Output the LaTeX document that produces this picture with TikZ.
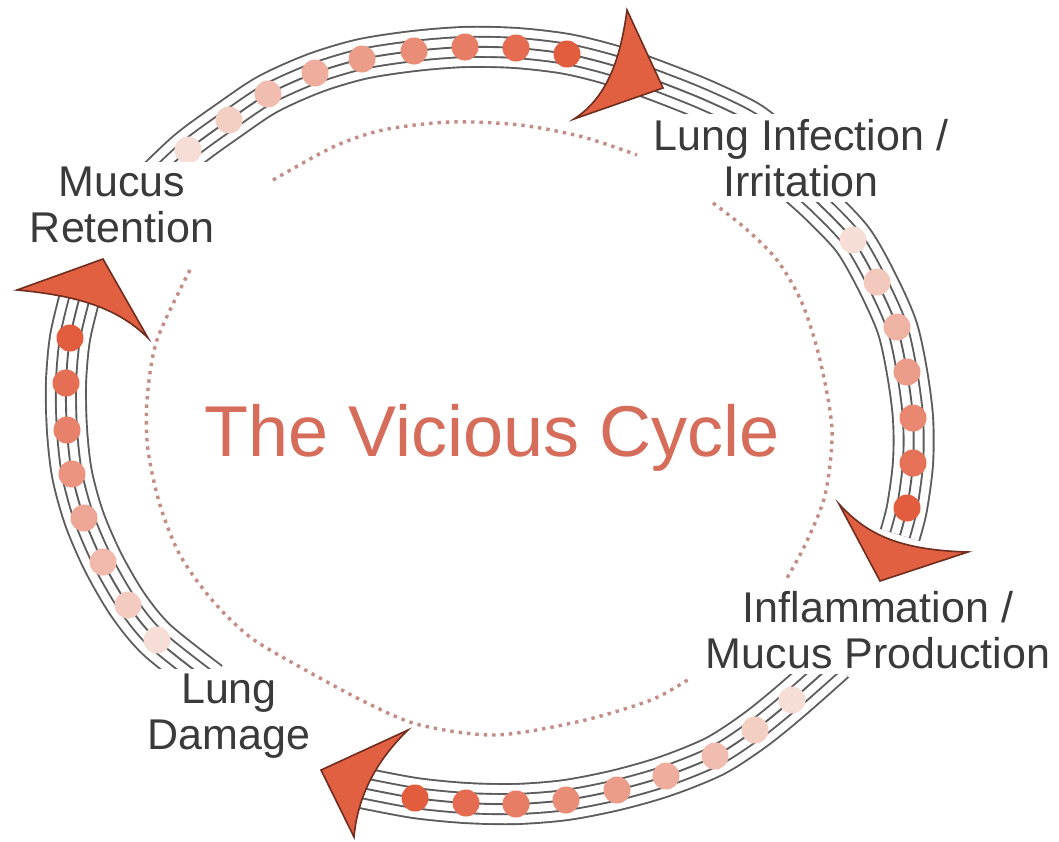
\documentclass[tikz,border=0pt]{standalone}
\usepackage{fontspec}
\setmainfont{Liberation Sans}
\definecolor{tubegray}{RGB}{92,92,92}
\definecolor{dotlight}{RGB}{246,222,214}
\definecolor{dotdark}{RGB}{226,92,62}
\definecolor{arrowfill}{RGB}{225,96,66}
\definecolor{arrowline}{RGB}{110,45,30}
\definecolor{titlecol}{RGB}{214,108,90}
\definecolor{labelcol}{RGB}{58,58,58}
\definecolor{ringcol}{RGB}{196,140,134}
\tikzset{
 tube/.style={draw=tubegray, line width=42pt, line cap=butt, line join=round,
   postaction={draw=white, line width=38.2pt},
   postaction={draw=tubegray, line width=22pt},
   postaction={draw=white, line width=18.2pt},
   postaction={draw=tubegray, line width=1.9pt}},
 ring/.style={draw=ringcol, line width=3.4pt, line cap=butt, dash pattern=on 3.4pt off 5pt},
 bead/.style={circle, inner sep=0pt, minimum size=27pt},
 lbl/.style={fill=white, text=labelcol, align=center, inner sep=5pt, font=\fontsize{43}{46}\selectfont},
 head/.style={fill=arrowfill, draw=arrowline, line width=1.6pt, line join=miter}
}
\begin{document}
\begin{tikzpicture}[x=1pt, y=-1pt]
\useasboundingbox (0,0) rectangle (1059,841);
% tubes
\draw[tube] plot[smooth] coordinates {(150,186) (188,150) (229,120) (268,94) (315,73) (362,59) (414,51) (465,47) (516,48) (567,54) (615,66) (660,82) (705,100) (750,122) (785,150)};
\draw[tube] plot[smooth] coordinates {(790,178) (820,205) (853,240) (877,282) (897,327) (907,372) (913,418) (913,463) (907,508) (900,535)};
\draw[tube] plot[smooth] coordinates {(835,662) (792,700) (755,730) (715,756) (666,776) (617,790) (566,800) (516,804) (466,803) (415,798) (362,788)};
\draw[tube] plot[smooth] coordinates {(210,682) (157,640) (128,605) (103,562) (84,518) (72,474) (67,430) (66,383) (70,338) (80,296)};
% beads
\foreach \x/\y [count=\i] in {188/150, 229/120, 268/94, 315/73, 362/59, 414/51, 465/47, 516/48, 567/54}{
  \pgfmathsetmacro\p{(\i-1)/8*100}
  \node[bead, fill=dotdark!\p!dotlight] (top\i) at (\x,\y) {};}
\foreach \x/\y [count=\i] in {853/240, 877/282, 897/327, 907/372, 913/418, 913/463, 907/508}{
  \pgfmathsetmacro\p{(\i-1)/6*100}
  \node[bead, fill=dotdark!\p!dotlight] (right\i) at (\x,\y) {};}
\foreach \x/\y [count=\i] in {792/700, 755/730, 715/756, 666/776, 617/790, 566/800, 516/804, 466/803, 415/798}{
  \pgfmathsetmacro\p{(\i-1)/8*100}
  \node[bead, fill=dotdark!\p!dotlight] (bottom\i) at (\x,\y) {};}
\foreach \x/\y [count=\i] in {157/640, 128/605, 103/562, 84/518, 72/474, 67/430, 66/383, 70/338}{
  \pgfmathsetmacro\p{(\i-1)/7*100}
  \node[bead, fill=dotdark!\p!dotlight] (left\i) at (\x,\y) {};}
% labels
\node[lbl] (retention) at (122,205) {Mucus\\Retention};
\node[lbl] (infection) at (801,158) {Lung Infection /\\Irritation};
\node[lbl] (inflammation) at (878,630) {Inflammation /\\Mucus Production};
\node[lbl] (damage) at (229,716) {Lung\\Damage};
\node[font=\fontsize{72}{80}\selectfont, text=titlecol, anchor=base] (title) at (492,456) {The Vicious Cycle};
% dotted inner ring
\draw[ring] plot[smooth] coordinates {(273,180) (333,147) (383,130) (450,122) (520,125) (583,137) (637,155)};
\draw[ring] plot[smooth] coordinates {(713,203) (745,228) (777,260) (802,303) (820,360) (832,430) (825,495) (805,545) (787,578)};
\draw[ring] plot[smooth] coordinates {(190,270) (157,340) (147,400) (148,450) (160,505) (180,555) (212,600) (250,637) (300,667) (367,703) (420,725) (496,735) (581,721) (651,700) (689,679)};
% arrowheads
\filldraw[head] (627,10) -- (663,88) -- (574,119) .. controls (606,98) and (620,62) .. (627,10) -- cycle;
\filldraw[head] (968,552) -- (880,581) -- (839,504) .. controls (865,532) and (895,550) .. (968,552) -- cycle;
\filldraw[head] (408,730) -- (321,770) -- (354,837) .. controls (358,792) and (380,757) .. (408,730) -- cycle;
\filldraw[head] (17,290) -- (103,259) -- (148,338) .. controls (115,305) and (70,295) .. (17,290) -- cycle;
\end{tikzpicture}
\end{document}
